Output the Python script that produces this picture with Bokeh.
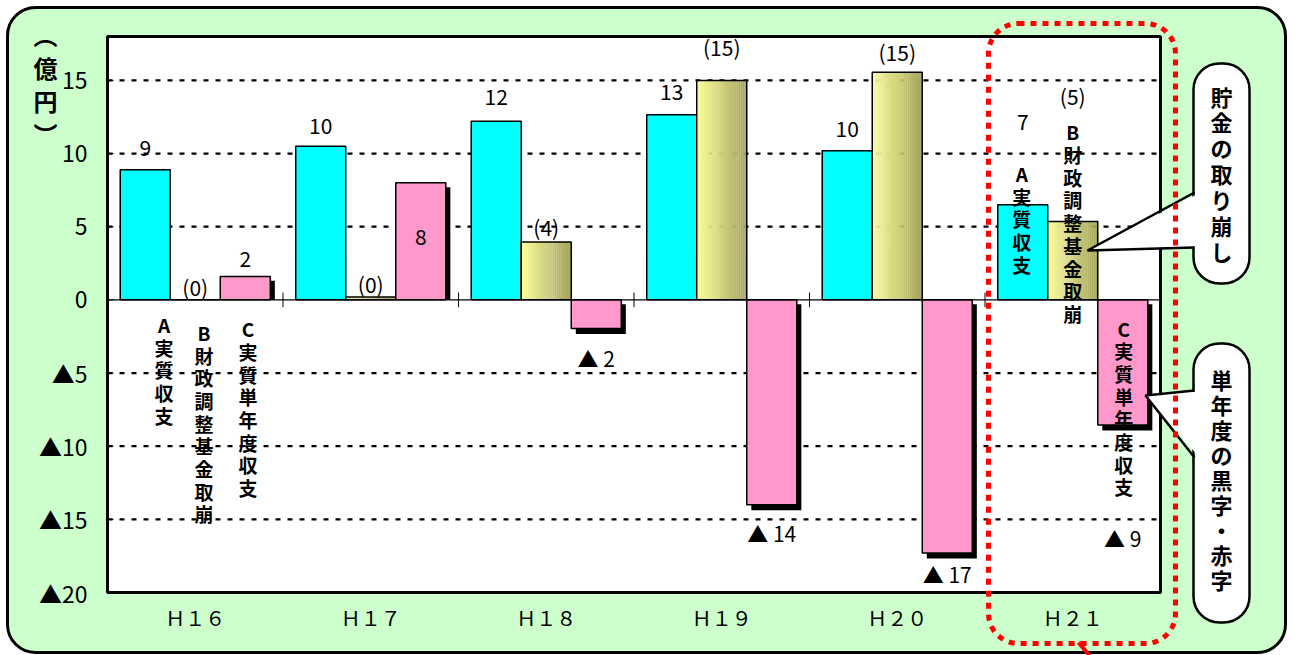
import numpy as np
from bokeh.plotting import figure
from bokeh.models import (BoxAnnotation, PolyAnnotation, Range1d)
from bokeh.core.properties import value
from bokeh.embed import file_html
from bokeh.resources import INLINE

# ---------------- data ----------------
years = ["Ｈ１６", "Ｈ１７", "Ｈ１８", "Ｈ１９", "Ｈ２０", "Ｈ２１"]
jisshitsu = [8.9, 10.5, 12.2, 12.65, 10.2, 6.5]        # A 実質収支
torikuzushi = [0.0, 0.2, 3.95, 15.0, 15.55, 5.35]     # B 財政調整基金取崩
tannendo = [1.6, 8.0, -1.95, -14.0, -17.3, -8.55]     # C 実質単年度収支
label_a = ["9", "10", "12", "13", "10", "7"]
label_b = ["(0)", "(0)", "(4)", "(15)", "(15)", "(5)"]
label_c = ["2", "8", "▲ 2", "▲ 14", "▲ 17", "▲ 9"]
y_ticks = [-20, -15, -10, -5, 0, 5, 10, 15]
y_tick_labels = ["▲20", "▲15", "▲10", "▲5", "0", "5", "10", "15"]
grid_ticks = [-15, -10, -5, 5, 10, 15]

# ---------------- layout / style ----------------
W, H = 1295, 655
JP = "Noto Sans CJK JP"
CYAN, PINK = "#00FFFF", "#FF99CC"
GREEN = "#CCFFCC"
BW = 0.285                      # bar width (category units)
OFF_A, OFF_B, OFF_C = -BW, 0.0, BW
lab_a_y = [10.4, 11.9, 13.85, 14.2, 11.7, 12.15]
lab_b_y = [0.85, 1.1, 5.0, 17.3, 16.95, 13.9]
lab_c_y = [2.8, 4.3, -4.0, -15.9, -18.75, -16.3]

# plot frame (pixels) and value range inside it
FL, FR, FT, FB = 107, 1160, 36, 592
YMIN, YMAX = -20, 18
GW = (FR - FL) / len(years)          # px per category
PY = (FB - FT) / (YMAX - YMIN)       # px per unit


def dx(px):
    return (px - FL) / GW


def dy(py):
    return YMAX - (py - FT) / PY


p = figure(x_range=Range1d(dx(0), dx(W)), y_range=Range1d(dy(H), dy(0)),
           width=W, height=H, output_backend="svg", toolbar_location=None,
           min_border=0, x_axis_location=None, y_axis_location=None)
p.title.visible = False
p.border_fill_color = "white"
p.background_fill_color = "white"
p.outline_line_color = None
p.xgrid.visible = False
p.ygrid.visible = False

# background panels
p.add_layout(BoxAnnotation(left=dx(7), right=dx(1285), top=dy(7), bottom=dy(652),
                           fill_color=GREEN, fill_alpha=1, line_color="black",
                           line_alpha=1, line_width=3, border_radius=28, level="image"))
p.add_layout(BoxAnnotation(left=dx(FL), right=dx(FR), top=YMAX, bottom=YMIN,
                           fill_color="white", fill_alpha=1, line_color=None,
                           level="image"))

idx = np.arange(len(years)) + 0.5    # category centres

# dashed grid
p.segment(x0=dx(FL), y0=grid_ticks, x1=dx(FR), y1=grid_ticks, line_color="black",
          line_width=2.2, line_dash="5 7", level="underlay")

# A bars
p.vbar(x=idx + OFF_A, top=jisshitsu, bottom=0, width=BW,
       fill_color=CYAN, line_color="black", line_width=1.5)

# B bars with horizontal gradient
n = 24
c0 = np.array([253, 253, 155])
c1 = np.array([164, 163, 94])
for i in range(n):
    t = (i + 0.5) / n
    col = c0 + (c1 - c0) * t
    hexc = "#%02x%02x%02x" % tuple(int(round(v)) for v in col)
    off = OFF_B - BW / 2 + (i + 0.5) * BW / n
    p.vbar(x=idx + off, top=torikuzushi, bottom=0, width=BW / n * 1.08,
           fill_color=hexc, line_color=None)
p.vbar(x=idx + OFF_B, top=torikuzushi, bottom=0, width=BW,
       fill_color=None, line_color="black", line_width=1.5)

# C bars with drop shadow
c_arr = np.array(tannendo)
sh_top = np.where(c_arr > 0, c_arr, 0) - 0.3
sh_bot = np.where(c_arr > 0, 0, c_arr - 0.38)
p.vbar(x=idx + OFF_C + 0.026, top=sh_top, bottom=sh_bot, width=BW,
       fill_color="black", line_color=None)
p.vbar(x=idx + OFF_C, top=tannendo, bottom=0, width=BW,
       fill_color=PINK, line_color="black", line_width=1.5)

# zero line with tick marks between years
p.segment(x0=dx(FL), y0=0, x1=dx(FR), y1=0, line_color="black", line_width=1.2)
bnd = np.arange(1, len(years))
p.segment(x0=bnd, y0=-0.5, x1=bnd, y1=0.5, line_color="black", line_width=1)

# y axis: ticks + labels
p.segment(x0=dx(FL), y0=y_ticks, x1=dx(FL + 6), y1=y_ticks, line_color="black", line_width=1)
p.text(x=dx(87), y=y_ticks, text=y_tick_labels, text_font=value(JP),
       text_font_size="23px", text_color="black", text_align="right",
       text_baseline="middle")
# x axis labels
p.text(x=idx, y=dy(617), text=years, text_font=value(JP), text_font_size="20px",
       text_color="black", text_align="center", text_baseline="middle")

# frame border
p.add_layout(BoxAnnotation(left=dx(FL), right=dx(FR), top=YMAX, bottom=YMIN,
                           fill_alpha=0, line_color="black", line_alpha=1, line_width=3,
                           level="annotation"))

# value labels
for off, labels, ys in [(OFF_A, label_a, lab_a_y), (OFF_B, label_b, lab_b_y),
                        (OFF_C, label_c, lab_c_y)]:
    p.text(x=idx + off, y=ys, text=labels,
           text_font=value(JP), text_font_size="21px", text_color="black",
           text_align="center", text_baseline="middle")

# vertical series names (H16 and H21)
name_a = "A\n実\n質\n収\n支"
name_b = "B\n財\n政\n調\n整\n基\n金\n取\n崩"
name_c = "C\n実\n質\n単\n年\n度\n収\n支"
for gi, off, ytop, txt in [(0, -0.178, -0.75, name_a),
                           (0, 0.05, -1.3, name_b),
                           (0, 0.30, -1.05, name_c),
                           (5, -0.29, 9.55, name_a),
                           (5, 0.0, 12.4, name_b),
                           (5, 0.29, -1.0, name_c)]:
    p.text(x=[idx[gi] + off], y=[ytop], text=[txt],
           text_font=value(JP), text_font_size="19px", text_font_style="bold",
           text_color="black", text_align="center", text_baseline="top",
           text_line_height=0.84)

# y-axis unit
p.text(x=[dx(45)], y=[dy(16)], text=["︵\n億\n円\n︶"], text_font=value(JP),
       text_font_size="24px", text_font_style="bold", text_align="center",
       text_baseline="top", text_line_height=0.95, text_color="black")

# callouts
for box, ptr, txt, ytop, lh in [
        ((1193, 1249, 63, 283), [(1194, 192), (1087, 250), (1194, 247)],
         "貯\n金\nの\n取\nり\n崩\nし", 79, 0.81),
        ((1193, 1249, 343, 622), [(1194, 390), (1145, 395), (1194, 457)],
         "単\n年\n度\nの\n黒\n字\n・\n赤\n字", 362, 0.785)]:
    p.add_layout(BoxAnnotation(left=dx(box[0]), right=dx(box[1]), top=dy(box[2]),
                               bottom=dy(box[3]), fill_color="white", fill_alpha=1,
                               line_color="black", line_alpha=1, line_width=2.5,
                               border_radius=26, level="annotation"))
    fx = [dx(ptr[0][0] + 4), dx(ptr[1][0]), dx(ptr[2][0] + 4)]
    fy = [dy(ptr[0][1] + 1), dy(ptr[1][1]), dy(ptr[2][1] - 1)]
    p.add_layout(PolyAnnotation(xs=fx, ys=fy, fill_color="white", fill_alpha=1,
                                line_alpha=0, level="annotation"))
    p.line(x=[dx(q[0]) for q in ptr], y=[dy(q[1]) for q in ptr], line_color="black",
           line_width=2.5, level="overlay")
    p.text(x=[dx((box[0] + box[1]) / 2)], y=[dy(ytop)], text=[txt],
           text_font=value(JP), text_font_size="22px", text_font_style="bold",
           text_align="center", text_baseline="top", text_line_height=lh,
           text_color="black", level="overlay")

# red dotted highlight around H21
p.add_layout(BoxAnnotation(left=dx(988), right=dx(1175), top=dy(23), bottom=dy(643),
                           fill_alpha=0, line_color="red", line_alpha=1, line_width=5,
                           line_dash="6 6", border_radius=30, level="overlay"))
p.line(x=[dx(1078), dx(1089)], y=[dy(642), dy(655)], line_color="red", line_width=4,
       level="overlay")

open("out.html", "w").write(file_html(p, INLINE))
